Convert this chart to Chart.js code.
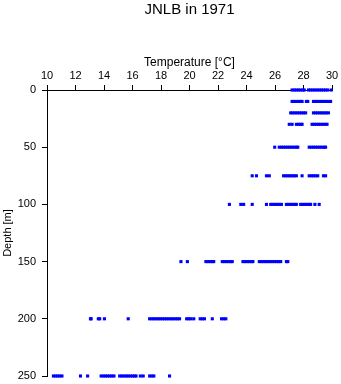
<!DOCTYPE html>
<html><head><meta charset="utf-8">
<script src="https://cdn.jsdelivr.net/npm/chart.js@4"></script>
<style>html,body{margin:0;padding:0;background:#fff}canvas{display:block}</style>
</head><body>
<canvas id="c" width="341" height="384"></canvas>
<script>
const chartTitle = 'JNLB in 1971';
const xTitle = 'Temperature [°C]';
const yTitle = 'Depth [m]';
const depths = [0, 10, 20, 30, 50, 75, 100, 150, 200, 250];
const t0 = [27.2,27.35,27.5,27.65,27.8,27.95,28.05,28.35,28.5,28.65,28.8,28.95,29.1,29.25,29.4,29.55,29.7,29.95];
const t10 = [27.2,27.35,27.5,27.65,27.8,27.9,28.2,28.3,28.7,28.85,29.0,29.15,29.3,29.45,29.6,29.75,29.9];
const t20 = [27.1,27.25,27.4,27.55,27.7,27.85,28.0,28.15,28.7,28.85,29.0,29.15,29.3,29.45,29.6,29.75];
const t30 = [27.0,27.2,27.5,27.65,27.8,27.9,28.6,28.75,28.9,29.05,29.2,29.35,29.5,29.65];
const t50 = [25.98,26.3,26.45,26.6,26.75,26.9,27.05,27.2,27.35,27.5,27.6,28.4,28.55,28.7,28.85,29.0,29.15,29.3,29.45,29.55];
const t75 = [24.4,24.7,25.4,25.6,26.6,26.75,26.9,27.05,27.2,27.35,27.5,27.9,28.4,28.55,28.7,28.85,29.0,29.4,29.55];
const t100 = [22.8,23.6,23.8,24.4,25.4,25.7,25.85,26.0,26.15,26.3,26.45,26.8,26.95,27.1,27.25,27.4,27.5,27.8,27.95,28.1,28.25,28.4,28.5,28.8,29.1];
const t150 = [19.4,19.85,21.15,21.3,21.45,21.6,21.7,22.3,22.45,22.6,22.75,22.9,23.0,23.75,23.9,24.05,24.2,24.35,24.45,24.9,25.05,25.2,25.35,25.5,25.65,25.8,25.95,26.1,26.25,26.4,26.8,26.9];
const t200 = [13.05,13.1,13.6,13.7,14.03,15.7,17.2,17.35,17.5,17.65,17.8,17.95,18.1,18.25,18.4,18.55,18.7,18.85,19.0,19.15,19.3,19.8,19.95,20.1,20.3,20.75,20.9,21.05,21.6,22.25,22.4,22.55];
const t250 = [10.45,10.6,10.75,10.9,11.05,12.35,12.85,13.8,13.95,14.1,14.25,14.4,14.55,14.7,15.1,15.25,15.4,15.55,15.7,15.85,16.0,16.15,16.25,16.55,16.75,17.2,17.35,17.5,18.6];
const tempsByDepth = [t0, t10, t20, t30, t50, t75, t100, t150, t200, t250];
const xTicks = [10, 12, 14, 16, 18, 20, 22, 24, 26, 28, 30];
const yTicks = [0, 50, 100, 150, 200, 250];

const points = [];
depths.forEach((d, i) => tempsByDepth[i].forEach(t => points.push({x: t, y: d})));

const FONT = 'Liberation Sans, Arial, sans-serif';

const titlePlugin = {
  id: 'centerTitle',
  afterDraw(chart) {
    const ctx = chart.ctx, a = chart.chartArea;
    ctx.save();
    ctx.font = '15px ' + FONT;
    ctx.fillStyle = '#000';
    ctx.textAlign = 'center';
    ctx.textBaseline = 'middle';
    ctx.fillText(chartTitle, (a.left + a.right) / 2, 10);
    ctx.restore();
  }
};

new Chart(document.getElementById('c'), {
  type: 'scatter',
  data: {
    datasets: [{
      data: points,
      pointStyle: 'rect',
      pointRadius: 2.2,
      pointHoverRadius: 2.2,
      backgroundColor: '#0000ff',
      borderColor: '#0000ff',
      borderWidth: 0,
      clip: false
    }]
  },
  options: {
    responsive: false,
    animation: false,
    devicePixelRatio: 1,
    layout: {padding: {top: 51, left: 0, right: 9, bottom: 8}},
    plugins: {legend: {display: false}, tooltip: {enabled: false}},
    scales: {
      x: {
        type: 'linear', position: 'top', min: 10, max: 30,
        afterBuildTicks: s => { s.ticks = xTicks.map(v => ({value: v})); },
        afterFit: s => { s.height = 39; s.paddingLeft = 0; s.paddingRight = 0; },
        ticks: {color: '#000', padding: 2, font: {family: FONT, size: 11}, maxRotation: 0},
        grid: {drawOnChartArea: false, drawTicks: true, tickLength: 5, color: '#000'},
        border: {display: true, color: '#000', width: 1},
        title: {display: true, text: xTitle, color: '#000', padding: {top: 4, bottom: 0}, font: {family: FONT, size: 12}}
      },
      y: {
        type: 'linear', reverse: true, min: 0, max: 250,
        afterBuildTicks: s => { s.ticks = yTicks.map(v => ({value: v})); },
        afterFit: s => { s.width = 47; s.paddingTop = 0; s.paddingBottom = 0; },
        ticks: {color: '#000', padding: 6, font: {family: FONT, size: 11}},
        grid: {drawOnChartArea: false, drawTicks: true, tickLength: 5, color: '#000'},
        border: {display: true, color: '#000', width: 1},
        title: {display: true, text: yTitle, color: '#000', padding: {top: 1, bottom: 0}, font: {family: FONT, size: 11}}
      }
    }
  },
  plugins: [titlePlugin]
});
</script>
</body></html>
